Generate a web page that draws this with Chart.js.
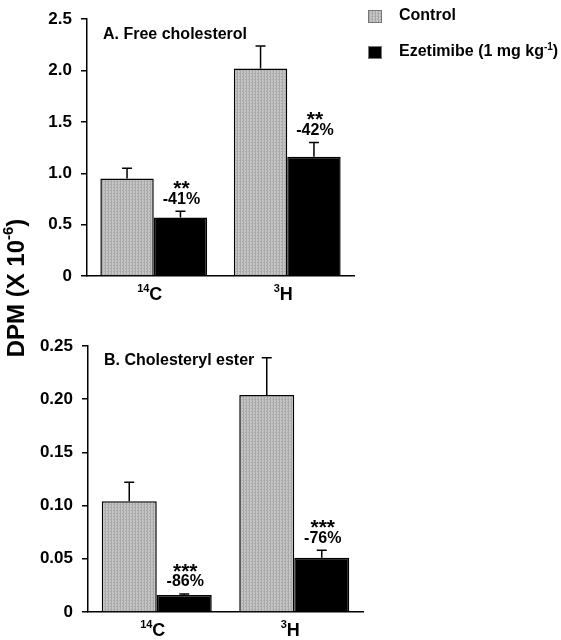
<!DOCTYPE html>
<html>
<head>
<meta charset="utf-8">
<script src="https://cdn.jsdelivr.net/npm/chart.js@4/dist/chart.umd.min.js"></script>
<style>
  body { margin: 0; background: #fff; }
  #wrap { position: relative; width: 561px; height: 640px; }
  #wrap canvas { position: absolute; left: 0; }
</style>
</head>
<body>
<div id="wrap">
  <canvas id="freeChol" width="561" height="640" style="top:0;width:561px;height:640px"></canvas>
  <canvas id="cholEster" width="561" height="320" style="top:320px;width:561px;height:320px"></canvas>
</div>
<script>
// ^{..} marks a superscript
var categories = ["^{14}C", "^{3}H"];
var seriesNames = ["Control", "Ezetimibe (1 mg kg^{-1})"];

// A. Free cholesterol
var freeControl = [0.95, 2.02];
var freeControlErr = [0.10, 0.22];
var freeEzetimibe = [0.57, 1.16];
var freeEzetimibeErr = [0.06, 0.14];
var freeStars = ["**", "**"];
var freeChange = ["-41%", "-42%"];
var freeTicks = ["0", "0.5", "1.0", "1.5", "2.0", "2.5"];

// B. Cholesteryl ester
var esterControl = [0.104, 0.204];
var esterControlErr = [0.018, 0.035];
var esterEzetimibe = [0.016, 0.051];
var esterEzetimibeErr = [0.001, 0.007];
var esterStars = ["***", "***"];
var esterChange = ["-86%", "-76%"];
var esterTicks = ["0", "0.05", "0.10", "0.15", "0.20", "0.25"];

var FONT = '"Liberation Sans", Arial, sans-serif';
Chart.defaults.font.family = FONT;
Chart.defaults.font.weight = "bold";
Chart.defaults.color = "#000";

function grayPattern() {
  var c = document.createElement("canvas");
  c.width = 3; c.height = 3;
  var g = c.getContext("2d");
  g.fillStyle = "#c4c4c4";
  g.fillRect(0, 0, 3, 3);
  g.fillStyle = "#a8a8a8";
  g.fillRect(0, 0, 1, 3);
  g.fillRect(2, 1, 1, 1);
  return g.createPattern(c, "repeat");
}
var controlFill = grayPattern();

// text with ^{..} superscripts
function richWidth(ctx, text, size) {
  var parts = text.split(/\^\{([^}]*)\}/), w = 0;
  parts.forEach(function (p, k) {
    ctx.font = "bold " + (k % 2 ? Math.round(size * 0.62) : size) + "px " + FONT;
    w += ctx.measureText(p).width;
  });
  return w;
}
function drawRich(ctx, text, x, y, size) {
  var parts = text.split(/\^\{([^}]*)\}/), cx = x;
  ctx.textAlign = "left";
  ctx.textBaseline = "middle";
  parts.forEach(function (p, k) {
    var sup = k % 2 === 1;
    ctx.font = "bold " + (sup ? Math.round(size * 0.62) : size) + "px " + FONT;
    ctx.fillText(p, cx, sup ? y - size * 0.32 : y);
    cx += ctx.measureText(p).width;
  });
}

function makeErrorBars(errors, stars, change) {
  return {
    id: "errorBars",
    afterDatasetsDraw: function (chart) {
      var ctx = chart.ctx, y = chart.scales.y;
      ctx.save();
      ctx.strokeStyle = "#000";
      ctx.fillStyle = "#000";
      ctx.lineWidth = 1.5;
      chart.data.datasets.forEach(function (ds, di) {
        chart.getDatasetMeta(di).data.forEach(function (bar, i) {
          var top = y.getPixelForValue(ds.data[i] + errors[di][i]);
          ctx.beginPath();
          ctx.moveTo(bar.x, bar.y);
          ctx.lineTo(bar.x, top);
          ctx.moveTo(bar.x - 5, top);
          ctx.lineTo(bar.x + 5, top);
          ctx.stroke();
          if (di === 1) {
            ctx.textAlign = "center";
            ctx.textBaseline = "middle";
            ctx.font = "bold 16px " + FONT;
            ctx.fillText(change[i], bar.x + 1, top - 12);
            ctx.font = "bold 21px " + FONT;
            ctx.fillText(stars[i], bar.x + 1, top - 22);
          }
        });
      });
      ctx.restore();
    }
  };
}

function makePanelText(title, withLegend) {
  return {
    id: "panelText",
    afterDraw: function (chart) {
      var ctx = chart.ctx, area = chart.chartArea, x = chart.scales.x;
      ctx.save();
      ctx.fillStyle = "#000";
      drawRich(ctx, title, area.left + 16, area.top + 15, 16);
      // category labels under the x axis
      chart.data.labels.forEach(function (lab, i) {
        var w = richWidth(ctx, lab, 18);
        drawRich(ctx, lab, x.getPixelForTick(i) - w / 2 - 4, area.bottom + 19, 18);
      });
      if (withLegend) {
        chart.data.datasets.forEach(function (ds, i) {
          var cy = 16 + i * 36;
          ctx.fillStyle = ds.backgroundColor;
          ctx.fillRect(area.right + 14, cy - 6, 14, 13);
          ctx.strokeStyle = "#777";
          ctx.lineWidth = 1;
          ctx.strokeRect(area.right + 14.5, cy - 5.5, 13, 12);
          ctx.fillStyle = "#000";
          drawRich(ctx, seriesNames[i], area.right + 45, cy, 16);
        });
        // shared y axis title
        var yTitle = "DPM (X 10^{-6})";
        ctx.translate(17, 288);
        ctx.rotate(-Math.PI / 2);
        drawRich(ctx, yTitle, -richWidth(ctx, yTitle, 24) / 2, 0, 24);
      }
      ctx.restore();
    }
  };
}

function makeChart(id, control, controlErr, eze, ezeErr, stars, change, tickLabels, maxV, step, title, padding, yWidth, xHeight, withLegend) {
  return new Chart(id, {
    type: "bar",
    data: {
      labels: categories,
      datasets: [{
        label: "Control",
        data: control,
        backgroundColor: controlFill,
        borderColor: "#000",
        borderWidth: 1.5
      }, {
        label: "Ezetimibe",
        data: eze,
        backgroundColor: "#000",
        borderColor: "#000",
        borderWidth: 1.5
      }]
    },
    options: {
      responsive: false,
      animation: false,
      layout: { padding: padding },
      datasets: { bar: { categoryPercentage: 0.8, barPercentage: 1.0 } },
      plugins: { legend: { display: false }, tooltip: { enabled: false } },
      scales: {
        x: {
          grid: { display: false, drawTicks: false },
          border: { display: true, color: "#000", width: 1.5 },
          ticks: { display: false },
          afterFit: function (s) { s.height = xHeight; }
        },
        y: {
          min: 0,
          max: maxV,
          grid: { drawOnChartArea: false, drawTicks: true, tickLength: 6, color: "#000", lineWidth: 1.5 },
          border: { display: true, color: "#000", width: 1.5 },
          ticks: {
            stepSize: step,
            padding: 9,
            font: { size: 17, weight: "bold" },
            callback: function (v, i) { return tickLabels[i]; }
          },
          afterFit: function (s) { s.width = yWidth; }
        }
      }
    },
    plugins: [makeErrorBars([controlErr, ezeErr], stars, change), makePanelText(title, withLegend)]
  });
}

makeChart("freeChol", freeControl, freeControlErr, freeEzetimibe, freeEzetimibeErr,
  freeStars, freeChange, freeTicks, 2.5, 0.5, "A. Free cholesterol",
  { left: 0, top: 9.5, right: 207, bottom: 330 }, 87, 34, true);

makeChart("cholEster", esterControl, esterControlErr, esterEzetimibe, esterEzetimibeErr,
  esterStars, esterChange, esterTicks, 0.25, 0.05, "B. Cholesteryl ester",
  { left: 0, top: 26, right: 198, bottom: 0 }, 88, 28, false);
</script>
</body>
</html>
